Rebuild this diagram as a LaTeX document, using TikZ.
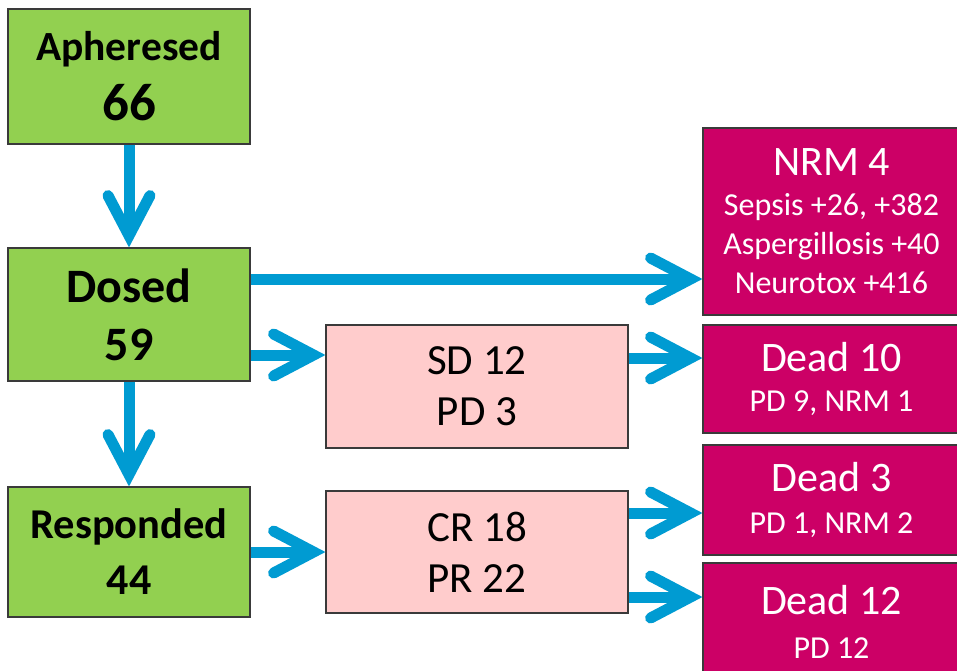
\documentclass[tikz,border=0pt]{standalone}
\usepackage{fontspec}
\setmainfont{Carlito}
\usetikzlibrary{arrows.meta,calc}

\definecolor{boxgreen}{HTML}{92D050}
\definecolor{boxpink}{HTML}{FFCCCC}
\definecolor{boxred}{HTML}{CC0066}
\definecolor{boxline}{HTML}{3A3A3A}
\definecolor{flowblue}{HTML}{009BD2}

\tikzset{
    box/.style={draw=boxline, line width=1.2pt, inner sep=0pt, align=center},
    stagebox/.style={box, fill=boxgreen, minimum width=242pt},
    resultbox/.style={box, fill=boxpink, minimum width=302pt},
    deathbox/.style={box, fill=boxred, text=white, minimum width=257pt},
    flow/.style={line width=11pt, draw=flowblue,
        -{Straight Barb[length=40pt,width=42pt,line cap=round,line join=miter]}},
}

\begin{document}
\begin{tikzpicture}[x=1pt,y=-1pt]
    \clip (0,0) rectangle (957,670);
    \fill[white] (0,0) rectangle (957,670);

    \node[stagebox, minimum height=135pt, font=\bfseries\fontsize{41.5}{60}\selectfont]
        (apheresed) at (129,76.5) {Apheresed\\\fontsize{53}{60}\selectfont 66};
    \node[stagebox, minimum height=133pt, font=\bfseries\fontsize{48}{58}\selectfont]
        (dosed) at (129,314.5) {Dosed\\59};
    \node[stagebox, minimum height=130pt, font=\bfseries\fontsize{42.5}{56}\selectfont]
        (responded) at (129,552) {Responded\\\fontsize{44}{56}\selectfont 44};

    \node[resultbox, minimum height=123pt, font=\fontsize{43}{51}\selectfont]
        (stable) at (477,386.5) {SD 12\\PD 3};
    \node[resultbox, minimum height=122pt, font=\fontsize{43}{51}\selectfont]
        (response) at (477,552) {CR 18\\PR 22};

    \node[deathbox, minimum height=187pt, font=\fontsize{32}{39}\selectfont]
        (nrm) at (831.5,221.5) {\fontsize{42}{39}\selectfont NRM 4\\[1pt]Sepsis +26, +382\\Aspergillosis +40\\Neurotox +416};
    \node[deathbox, minimum height=108pt, font=\fontsize{32}{40}\selectfont]
        (deadsd) at (831.5,379) {\fontsize{42}{40}\selectfont Dead 10\\PD 9, NRM 1};
    \node[deathbox, minimum height=110pt, font=\fontsize{32}{42}\selectfont]
        (deadcr) at (831.5,500) {\fontsize{42}{42}\selectfont Dead 3\\PD 1, NRM 2};
    \node[deathbox, minimum height=117pt, font=\fontsize{32}{44}\selectfont]
        (deadpr) at (831.5,621.5) {\fontsize{42}{44}\selectfont Dead 12\\PD 12};

    \draw[flow] (apheresed) -- (dosed);
    \draw[flow] (dosed) -- (responded);
    \draw[flow] ([yshift=35.5pt]dosed.east) -- ([yshift=35.5pt]dosed.east -| nrm.west);
    \draw[flow] ([yshift=-40.5pt]dosed.east) -- ([yshift=-40.5pt]dosed.east -| stable.west);
    \draw[flow] ([yshift=28.5pt]stable.east) -- ([yshift=28.5pt]stable.east -| deadsd.west);
    \draw[flow] (responded) -- (response);
    \draw[flow] ([yshift=39pt]response.east) -- ([yshift=39pt]response.east -| deadcr.west);
    \draw[flow] ([yshift=-45pt]response.east) -- ([yshift=-45pt]response.east -| deadpr.west);
\end{tikzpicture}
\end{document}
